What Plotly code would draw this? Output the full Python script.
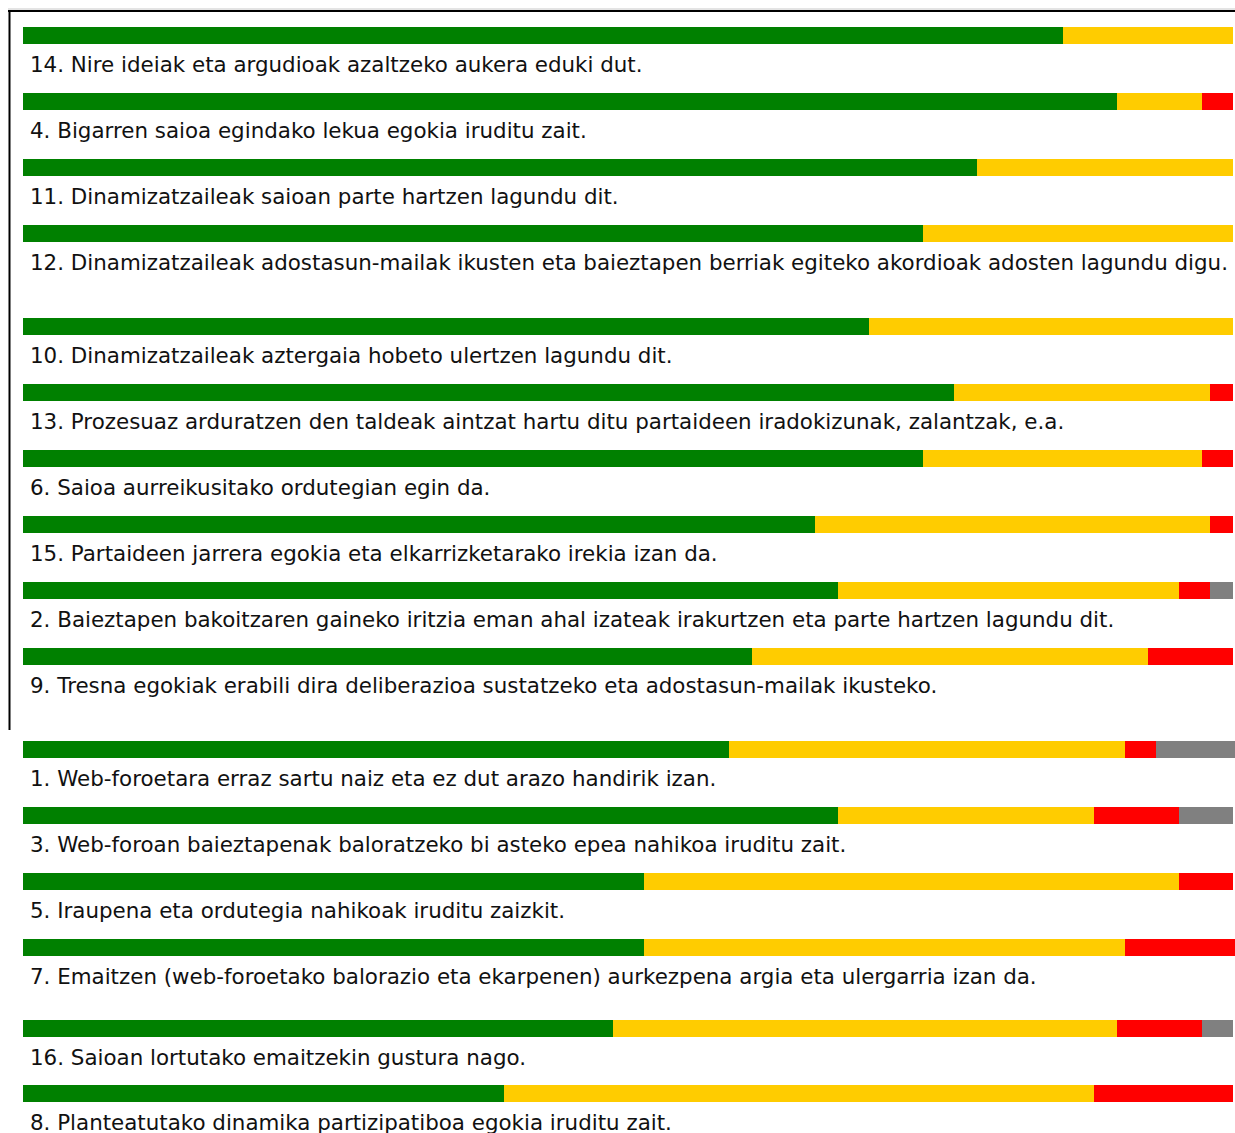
import plotly.graph_objects as go

# ---- data (percentages of responses) ----
labels = [
    "14. Nire ideiak eta argudioak azaltzeko aukera eduki dut.",
    "4. Bigarren saioa egindako lekua egokia iruditu zait.",
    "11. Dinamizatzaileak saioan parte hartzen lagundu dit.",
    "12. Dinamizatzaileak adostasun-mailak ikusten eta baieztapen berriak egiteko akordioak adosten lagundu digu.",
    "10. Dinamizatzaileak aztergaia hobeto ulertzen lagundu dit.",
    "13. Prozesuaz arduratzen den taldeak aintzat hartu ditu partaideen iradokizunak, zalantzak, e.a.",
    "6. Saioa aurreikusitako ordutegian egin da.",
    "15. Partaideen jarrera egokia eta elkarrizketarako irekia izan da.",
    "2. Baieztapen bakoitzaren gaineko iritzia eman ahal izateak irakurtzen eta parte hartzen lagundu dit.",
    "9. Tresna egokiak erabili dira deliberazioa sustatzeko eta adostasun-mailak ikusteko.",
    "1. Web-foroetara erraz sartu naiz eta ez dut arazo handirik izan.",
    "3. Web-foroan baieztapenak baloratzeko bi asteko epea nahikoa iruditu zait.",
    "5. Iraupena eta ordutegia nahikoak iruditu zaizkit.",
    "7. Emaitzen (web-foroetako balorazio eta ekarpenen) aurkezpena argia eta ulergarria izan da.",
    "16. Saioan lortutako emaitzekin gustura nago.",
    "8. Planteatutako dinamika partizipatiboa egokia iruditu zait.",
]
green  = [85.95, 90.41, 78.84, 74.38, 69.92, 76.94, 74.38, 65.45, 67.36, 60.25, 58.35, 67.36, 51.32, 51.32, 48.76, 39.75]
yellow = [14.05,  7.02, 21.16, 25.62, 30.08, 21.16, 23.06, 32.65, 28.18, 32.73, 32.73, 21.16, 44.21, 39.75, 41.65, 48.76]
red    = [ 0.00,  2.57,  0.00,  0.00,  0.00,  1.90,  2.56,  1.90,  2.56,  7.02,  2.56,  7.02,  4.47,  9.09,  7.02, 11.49]
grey   = [ 0.00,  0.00,  0.00,  0.00,  0.00,  0.00,  0.00,  0.00,  1.90,  0.00,  6.53,  4.46,  0.00,  0.00,  2.57,  0.00]

series = [("green", green, "#008000"), ("yellow", yellow, "#FFCC00"),
          ("red", red, "#FF0000"), ("grey", grey, "#808080")]

# ---- layout constants (pixels) ----
W, H = 1235, 1133
BAR_X0 = 23          # left edge of bars
PX_PER_PCT = 12.10   # 100% -> 1210 px
BAR_H = 17
first_top = 27
step = 66
extra = [0, 0, 0, 0, 27, 0, 0, 0, 0, 0, 27, 0, 0, 0, 15, -1]

tops = []
t = first_top
for i in range(len(labels)):
    t += extra[i]
    tops.append(t)
    t += step
centers = [tp + BAR_H / 2 for tp in tops]

fig = go.Figure()
for name, vals, col in series:
    fig.add_trace(go.Bar(
        x=vals, y=centers, orientation="h", width=BAR_H,
        marker=dict(color=col, line=dict(width=0)), name=name,
        hoverinfo="skip",
    ))

for lab, c in zip(labels, centers):
    fig.add_annotation(
        x=0, y=c + 29, xref="x", yref="y", text=lab, showarrow=False,
        xanchor="left", yanchor="middle", xshift=5,
        font=dict(family="DejaVu Sans", size=21.4, color="#111111"),
    )

# frame lines
def px(xp):
    return xp / W
def py(yp):
    return 1 - yp / H

fig.add_shape(type="line", xref="paper", yref="paper", x0=px(8), x1=px(1235), y0=py(9), y1=py(9),
              line=dict(color="#c8c8c8", width=1))
fig.add_shape(type="line", xref="paper", yref="paper", x0=px(8), x1=px(1235), y0=py(11), y1=py(11),
              line=dict(color="#000000", width=2))
fig.add_shape(type="line", xref="paper", yref="paper", x0=px(9.5), x1=px(9.5), y0=py(10), y1=py(730),
              line=dict(color="#000000", width=2))

fig.update_layout(
    width=W, height=H, barmode="stack", showlegend=False,
    margin=dict(l=0, r=0, t=0, b=0),
    paper_bgcolor="white", plot_bgcolor="white",
    xaxis=dict(range=[-BAR_X0 / PX_PER_PCT, (W - BAR_X0) / PX_PER_PCT], visible=False, fixedrange=True),
    yaxis=dict(range=[H, 0], visible=False, fixedrange=True),
    bargap=0,
)
fig.write_html(
    "out.html",
    config={"displayModeBar": False},
    post_script="document.body.style.margin='0';document.body.style.overflow='hidden';",
)
